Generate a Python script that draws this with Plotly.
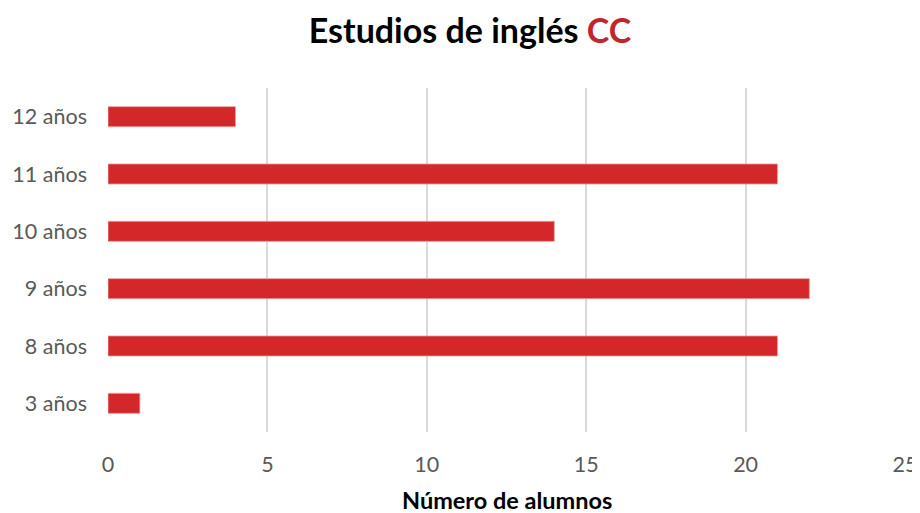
import plotly.graph_objects as go

categories = ["3 años", "8 años", "9 años", "10 años", "11 años", "12 años"]
values = [1, 21, 22, 14, 21, 4]
x_ticks = [0, 5, 10, 15, 20, 25]

FONT = "Lato"

fig = go.Figure(go.Bar(
    x=values, y=categories, orientation="h",
    marker=dict(color="#D32729", line=dict(color="#E8A0A0", width=0.8)),
))

# The page body adds an 8px margin, so the figure is sized to fit the window.
fig.update_layout(
    width=912, height=505,
    margin=dict(l=100, r=15, t=80, b=81),
    plot_bgcolor="white", paper_bgcolor="white",
    bargap=0.65,
    showlegend=False,
    title=dict(
        text="<b>Estudios de inglés <span style='color:#C0272D'>CC</span></b>",
        x=(470 - 8) / 912, xref="container", xanchor="center", y=0.955, yanchor="middle",
        font=dict(family=FONT, size=34, color="black"),
    ),
    font=dict(family=FONT, size=21.5, color="#595959"),
    annotations=[dict(
        text="<b>Número de alumnos</b>", xref="paper", yref="paper",
        x=0.5, y=-0.198, xanchor="center", yanchor="middle", showarrow=False,
        font=dict(family=FONT, size=23.5, color="black"),
    )],
)

fig.update_xaxes(
    range=[0, 25], tickvals=x_ticks, showgrid=True, gridcolor="#D9D9D9", gridwidth=1.5,
    zeroline=False, showline=False, ticklabelstandoff=17, automargin=False,
    tickfont=dict(size=21.5, color="#595959"),
)
fig.update_yaxes(
    categoryorder="array", categoryarray=categories, automargin=False,
    showgrid=False, zeroline=False, showline=False, ticklabelstandoff=20,
    tickfont=dict(size=21.5, color="#595959"),
)

fig.write_html("out.html")
